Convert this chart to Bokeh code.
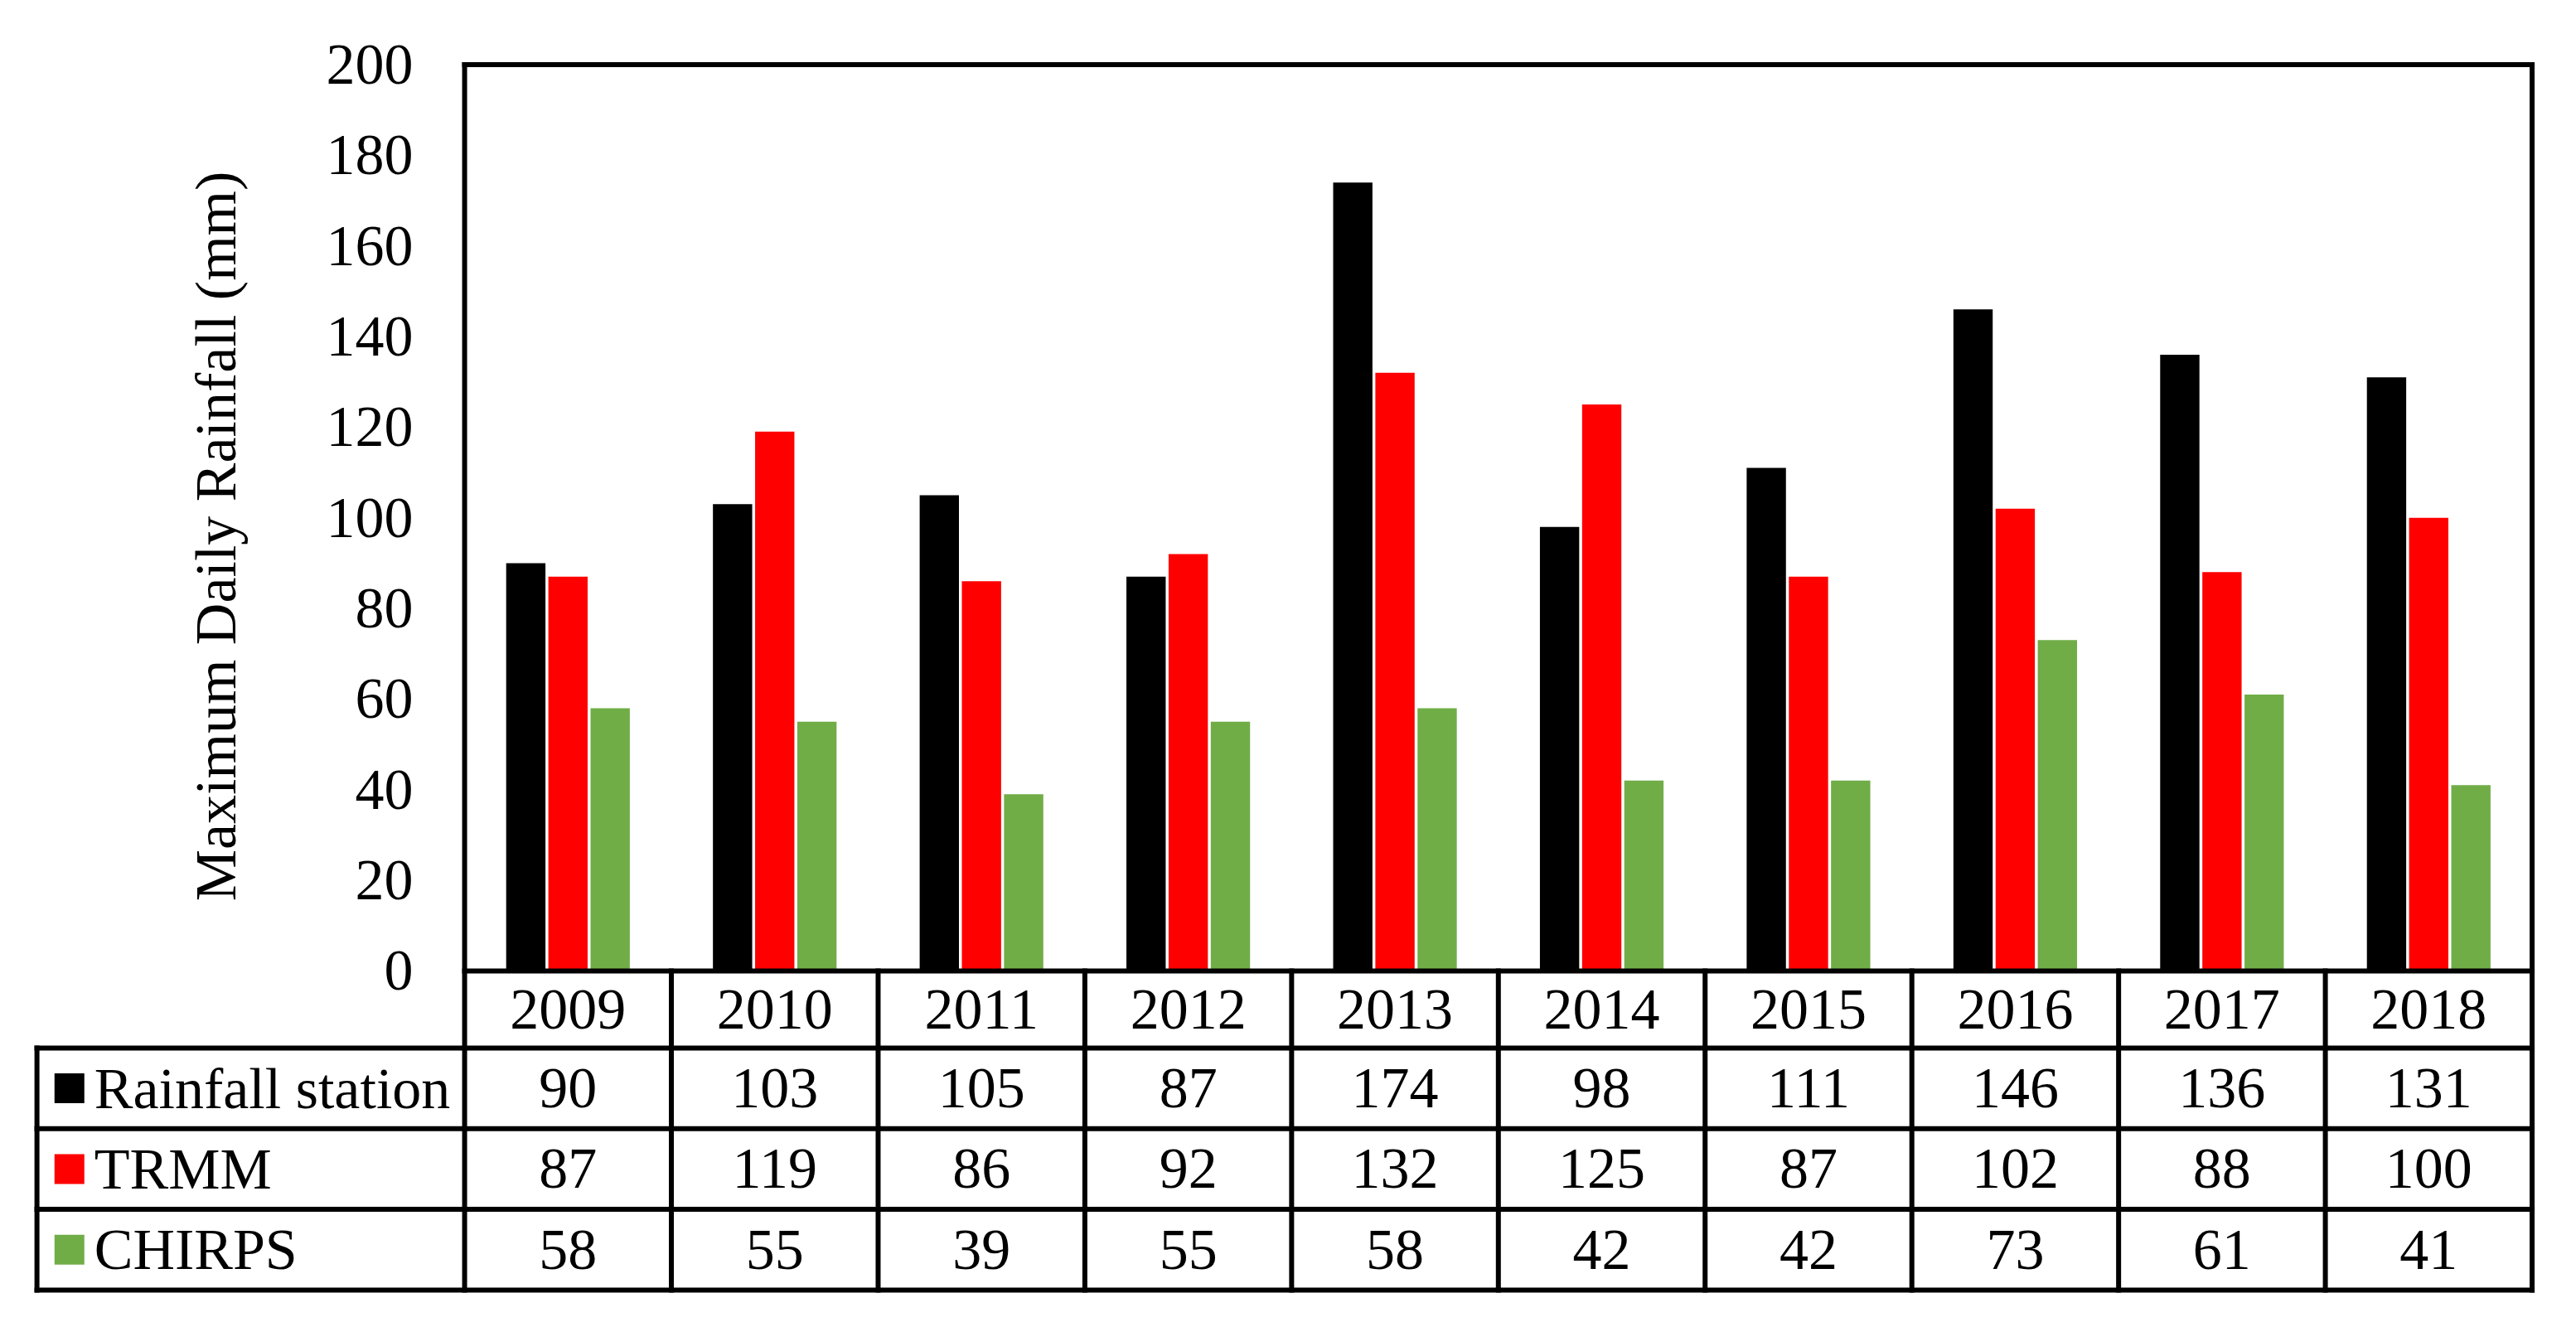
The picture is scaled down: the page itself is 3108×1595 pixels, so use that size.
from bokeh.plotting import figure
from bokeh.models import Range1d, FixedTicker, ColumnDataSource
from bokeh.core.properties import value
from bokeh.embed import file_html
from bokeh.resources import INLINE

# ---------------- data ----------------
years = ["2009", "2010", "2011", "2012", "2013", "2014", "2015", "2016", "2017", "2018"]
series_names = ["Rainfall station", "TRMM", "CHIRPS"]
rainfall_station = [90, 103, 105, 87, 174, 98, 111, 146, 136, 131]
trmm = [87, 119, 86, 92, 132, 125, 87, 102, 88, 100]
chirps = [58, 55, 39, 55, 58, 42, 42, 73, 61, 41]
y_ticks = [0, 20, 40, 60, 80, 100, 120, 140, 160, 180, 200]
y_label = "Maximum Daily Rainfall (mm)"

# ---------------- styling / layout ----------------
colors = ["#000000", "#FF0000", "#70AD47"]
FONT = "Liberation Serif"
FS = "70px"
LW = 6
n = len(years)
y_max = 200
row_edges = [0, -17.0, -34.8, -52.6, -70.4]   # table row boundaries (y units)
table_left = -2.0685                          # left edge of table (x units)
bar_w = 0.19
offsets = [-0.204, 0.0, 0.204]

p = figure(frame_width=3040, frame_height=1550,
           x_range=Range1d(-2.125, 10.062), y_range=Range1d(-72.98, 210.52),
           output_backend="svg", toolbar_location=None, x_axis_location=None,
           min_border_left=30, min_border_right=10, min_border_top=20, min_border_bottom=10)
p.outline_line_color = None
p.grid.visible = False
p.background_fill_color = "white"
p.border_fill_color = "white"

yax = p.yaxis[0]
yax.fixed_location = 0
yax.bounds = (-8, 200)
yax.ticker = FixedTicker(ticks=y_ticks)
yax.axis_line_color = None
yax.major_tick_line_color = None
yax.minor_tick_line_color = None
yax.major_label_text_font = FONT
yax.major_label_text_font_size = FS
yax.major_label_text_color = "black"
yax.major_label_standoff = 56
yax.axis_label = y_label
yax.axis_label_text_font = FONT
yax.axis_label_text_font_size = FS
yax.axis_label_text_font_style = "normal"
yax.axis_label_text_color = "black"
yax.axis_label_standoff = 92

# ---------------- bars ----------------
xc = [i + 0.5 for i in range(n)]
for vals, col, off in zip([rainfall_station, trmm, chirps], colors, offsets):
    src = ColumnDataSource(dict(x=[c + off for c in xc], top=vals))
    p.vbar(x="x", top="top", bottom=0, width=bar_w, source=src,
           fill_color=col, line_color=None)

# ---------------- frame & table lines ----------------
xs, ys = [], []
# chart frame
xs += [[0, n], [0, n], [0, 0], [n, n]]
ys += [[y_max, y_max], [0, 0], [y_max, row_edges[-1]], [y_max, row_edges[-1]]]
# table horizontals
for e in row_edges[1:]:
    xs.append([table_left, n]); ys.append([e, e])
# table verticals
for i in range(1, n):
    xs.append([i, i]); ys.append([0, row_edges[-1]])
xs.append([table_left, table_left]); ys.append([row_edges[1], row_edges[-1]])
p.multi_line(xs=xs, ys=ys, line_color="black", line_width=LW, line_cap="square")

# ---------------- table text ----------------
def mid(a, b):
    return (a + b) / 2

p.text(x=xc, y=[mid(row_edges[0], row_edges[1])] * n, text=years,
       text_font=value(FONT), text_font_size=FS, text_align="center",
       text_baseline="middle", text_color="black")

all_series = [rainfall_station, trmm, chirps]
for r, vals in enumerate(all_series):
    yc = mid(row_edges[r + 1], row_edges[r + 2])
    p.text(x=xc, y=[yc] * n, text=[str(v) for v in vals],
           text_font=value(FONT), text_font_size=FS, text_align="center",
           text_baseline="middle", text_color="black")

row_c = [mid(row_edges[r + 1], row_edges[r + 2]) for r in range(3)]
p.scatter(x=[table_left + 0.157] * 3, y=row_c, marker="square", size=36,
          fill_color=colors, line_color=None)
p.text(x=[table_left + 0.277] * 3, y=row_c, text=series_names,
       text_font=value(FONT), text_font_size=FS, text_align="left",
       text_baseline="middle", text_color="black")

open("out.html", "w").write(file_html(p, INLINE))
